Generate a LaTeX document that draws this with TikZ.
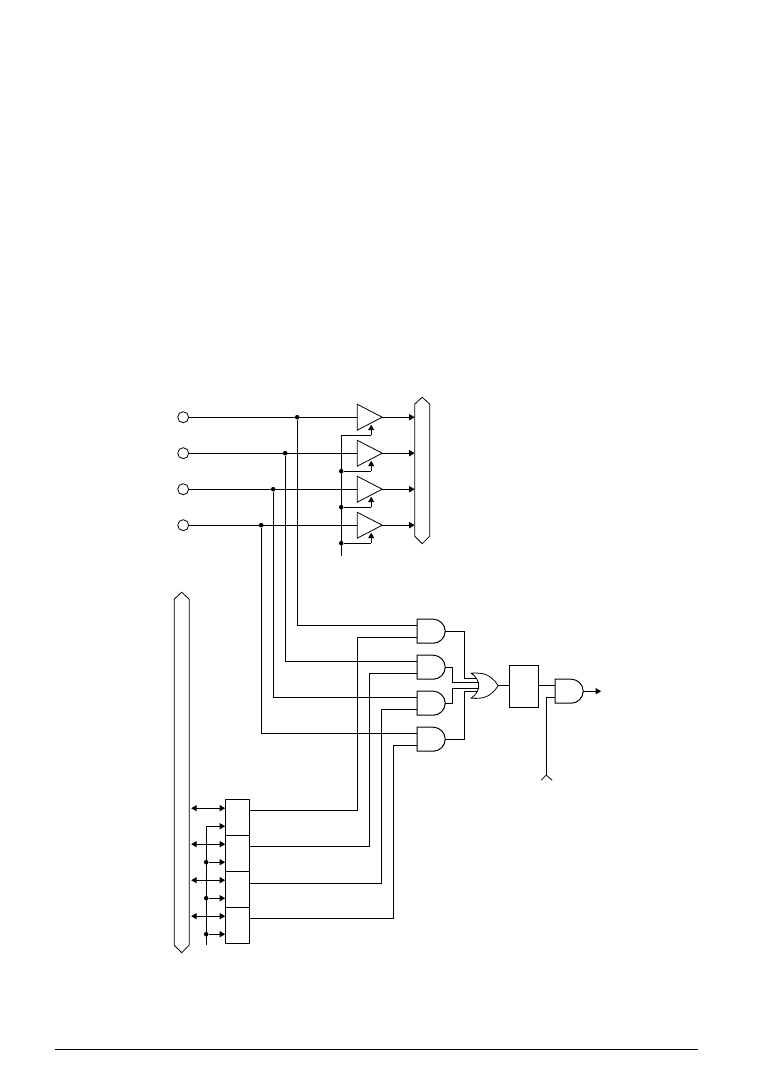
\documentclass[tikz,border=0pt]{standalone}
\usetikzlibrary{arrows.meta,calc}
\tikzset{
  x=1pt,y=-1pt,
  wire/.style={line width=1pt},
  thin outline/.style={line width=0.8pt},
  tip/.style={wire,-{Triangle[length=5.5pt,width=6pt]}},
  dbltip/.style={wire,{Triangle[length=5.5pt,width=6pt]}-{Triangle[length=5.5pt,width=6pt]}},
  dot/.style={circle,fill=black,inner sep=0pt,minimum size=4.5pt},
  port/.style={circle,draw,line width=0.8pt,inner sep=0pt,minimum size=11pt},
  regbox/.style={rectangle,draw,line width=1pt,inner sep=0pt,minimum width=24pt,minimum height=36pt},
  andgate/.pic={
    \draw[wire] (0,-12) -- (16,-12) .. controls (22.6,-12) and (28,-6.6) .. (28,0)
      .. controls (28,6.6) and (22.6,12) .. (16,12) -- (0,12) -- cycle;
    \coordinate (-a) at (0,-6); \coordinate (-b) at (0,6); \coordinate (-o) at (28,0);
  },
  bufgate/.pic={
    \draw[thin outline] (0,-13) -- (25,0) -- (0,13) -- cycle;
    \coordinate (-i) at (0,0); \coordinate (-o) at (25,0); \coordinate (-e) at (14,7);
  },
}
\begin{document}
\begin{tikzpicture}
\useasboundingbox (0,0) rectangle (774,1092);
\begin{scope}[shift={(0.2,0.2)}]
% input ports
\node[port] (p1) at (183,417) {};
\node[port] (p2) at (183,453) {};
\node[port] (p3) at (183,489) {};
\node[port] (p4) at (183,525) {};
% buffers
\pic (b1) at (357,417) {bufgate};
\pic (b2) at (357,453) {bufgate};
\pic (b3) at (357,489) {bufgate};
\pic (b4) at (357,525) {bufgate};
% top bus
\draw[thin outline] (414.5,404) -- (422,397) -- (429.5,404) -- (429.5,536) -- (422,543.5) -- (414.5,536) -- cycle;
\coordinate (t1) at (414.5,417);
\coordinate (t2) at (414.5,453);
\coordinate (t3) at (414.5,489);
\coordinate (t4) at (414.5,525);
\foreach \i in {1,2,3,4}{
  \draw[wire] (p\i) -- (b\i-i);
  \draw[tip] (b\i-o) -- (t\i);
}
% enable line
\coordinate (ent) at (341,435);
\coordinate (enb) at (341,556);
\node[dot] (e2) at (341,471) {};
\node[dot] (e3) at (341,507) {};
\node[dot] (e4) at (341,543) {};
\draw[wire] (enb) -- (ent) -- ($(ent)+(30,0)$) coordinate (ee1);
\draw[tip] (ee1) -- (371,424.5);
\draw[wire] (e2) -- (371,471) coordinate (ee2);
\draw[tip] (ee2) -- (371,460.5);
\draw[wire] (e3) -- (371,507) coordinate (ee3);
\draw[tip] (ee3) -- (371,496.5);
\draw[wire] (e4) -- (371,543) coordinate (ee4);
\draw[tip] (ee4) -- (371,532.5);
% AND gates
\pic (g1) at (417,631) {andgate};
\pic (g2) at (417,667) {andgate};
\pic (g3) at (417,703) {andgate};
\pic (g4) at (417,739) {andgate};
% taps
\node[dot] (j1) at (297,417) {};
\node[dot] (j2) at (285,453) {};
\node[dot] (j3) at (273,489) {};
\node[dot] (j4) at (261,525) {};
\foreach \i in {1,2,3,4}{
  \draw[wire] (j\i) |- (g\i-a);
}
% registers
\node[regbox] (r1) at (237,817) {};
\node[regbox] (r2) at (237,853) {};
\node[regbox] (r3) at (237,889) {};
\node[regbox] (r4) at (237,925) {};
\coordinate (r1o) at (249,810);
\coordinate (r2o) at (249,846);
\coordinate (r3o) at (249,883);
\coordinate (r4o) at (249,918);
\coordinate (v1) at (357,810);
\coordinate (v2) at (369,846);
\coordinate (v3) at (381,883);
\coordinate (v4) at (393,918);
\foreach \i in {1,2,3,4}{
  \draw[wire] (r\i o) -- (v\i) |- (g\i-b);
}
% left bus
\draw[thin outline] (174,599) -- (181.5,592) -- (189,599) -- (189,945) -- (181.5,952.5) -- (174,945) -- cycle;
\draw[dbltip] (191,808) -- (225,808);
\draw[dbltip] (191,844) -- (225,844);
\draw[dbltip] (191,880) -- (225,880);
\draw[dbltip] (191,916) -- (225,916);
% clock line
\coordinate (ct) at (206,826);
\coordinate (cb) at (206,945);
\draw[wire] (cb) -- (ct);
\draw[tip] (ct) -- (225,826);
\node[dot] (c2) at (206,862) {};
\node[dot] (c3) at (206,898) {};
\node[dot] (c4) at (206,934) {};
\draw[tip] (c2) -- (225,862);
\draw[tip] (c3) -- (225,898);
\draw[tip] (c4) -- (225,934);
% OR gate
\draw[thin outline] (471,673) .. controls (474,673) and (477,672.5) .. (479,673)
  .. controls (488,673.5) and (494,679) .. (498,685.5)
  .. controls (494,692) and (488,697.5) .. (479,698)
  .. controls (477,698.5) and (474,698) .. (471,698)
  .. controls (481,691) and (481,680) .. (471,673) -- cycle;
\coordinate (or1) at (477,678);
\coordinate (or2) at (478.5,682);
\coordinate (or3) at (478.5,688);
\coordinate (or4) at (477,691);
\coordinate (oro) at (498,685.5);
\draw[wire] (g1-o) -| (464,678) -- (or1);
\draw[wire] (g2-o) -| (452.5,682) -- (or2);
\draw[wire] (g3-o) -| (452.5,688) -- (or3);
\draw[wire] (g4-o) -| (464,691) -- (or4);
% latch box
\node[rectangle,draw,line width=1pt,inner sep=0pt,minimum width=29pt,minimum height=42pt] (latch) at (523.5,686) {};
\draw[wire] (oro) -- (latch.west |- oro);
% final AND
\pic (g5) at (555,691) {andgate};
\draw[wire] (latch.east |- g5-a) -- (g5-a);
\coordinate (fk) at (546,775);
\coordinate (fl) at (541,780);
\coordinate (fr) at (552,780);
\draw[wire] (g5-b) -| (fk);
\draw[thin outline] (fl) -- (fk) -- (fr);
\coordinate (out) at (601,691);
\draw[tip] (g5-o) -- (out);
% footer rule
\coordinate (fa) at (55,1049.5);
\coordinate (fb) at (698,1049.5);
\draw[line width=0.8pt] (fa) -- (fb);
\end{scope}
\end{tikzpicture}
\end{document}
